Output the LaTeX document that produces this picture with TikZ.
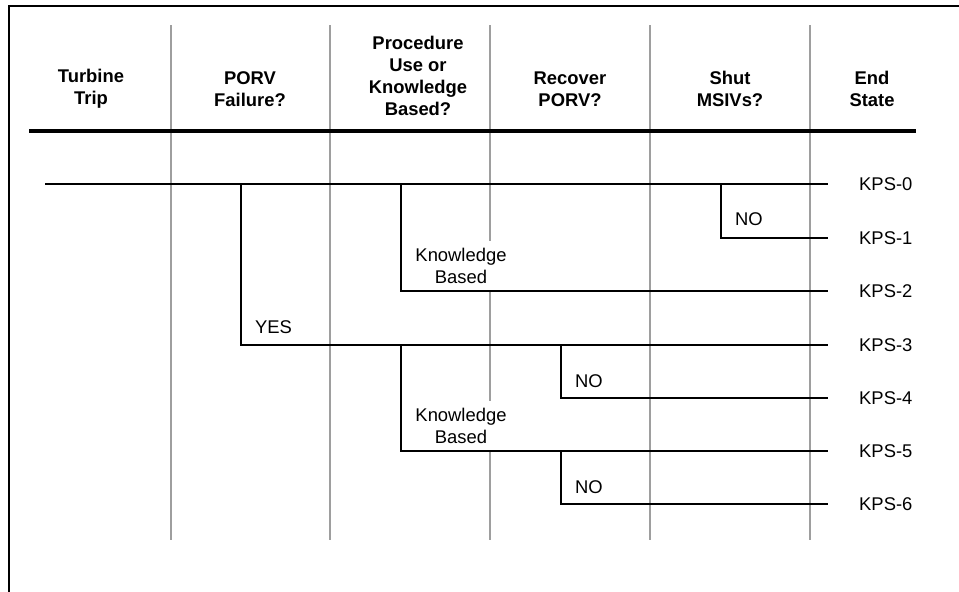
\documentclass[tikz,border=0pt]{standalone}
\usepackage{fontspec}
\setmainfont{Liberation Sans}
\usepackage{tikz}
\usetikzlibrary{positioning}

\begin{document}
\begin{tikzpicture}[
  x=1pt, y=-1pt,
  font=\fontsize{18.4}{22}\selectfont,
  every node/.style={align=center, inner sep=0pt},
  frame/.style ={line width=2pt, line cap=rect},
  colsep/.style={draw=black!38, line width=1.6pt},
  hline/.style ={line width=3.4pt},
  branch/.style={line width=1.8pt},
  hdr/.style   ={font=\fontsize{18.4}{22}\selectfont\bfseries},
  lbl/.style   ={anchor=base west},
  kb/.style    ={anchor=south, fill=white, inner xsep=2pt, inner ysep=7pt},
  endst/.style ={anchor=west, inner xsep=31pt}
]
\useasboundingbox (0,0) rectangle (959,592);

% --- Outer frame (only left and top edges fall inside the page) ---
\draw[frame] (9,592) -- (9,6) -- (959,6);

% --- Column separators ---
\foreach \x in {171,330,490,650,810}
  \draw[colsep] (\x,25) -- (\x,540);

% --- Column headings ---
\node[hdr] (turb)  at (91,89)  {Turbine\\Trip};
\node[hdr] (porv)  at (250,89) {PORV\\Failure?};
\node[hdr] (proc)  at (418,76) {Procedure\\Use or\\Knowledge\\Based?};
\node[hdr] (recov) at (570,89) {Recover\\PORV?};
\node[hdr] (shut)  at (730,89) {Shut\\MSIVs?};
\node[hdr] (endh)  at (872,89) {End\\State};

\draw[hline] (29,131) -- (916,131);

% --- Branch labels (white fill hides the separator behind them) ---
\node[kb]  (kbA) at (461,291) {Knowledge\\Based};
\node[kb]  (kbB) at (461,451) {Knowledge\\Based};
\node[lbl] (noA) at (735,225) {NO};
\node[lbl] (yes) at (255,333) {YES};
\node[lbl] (noB) at (575,387) {NO};
\node[lbl] (noC) at (575,493) {NO};

% --- End states ---
\node[endst] (kps0) at (828,184) {KPS-0};
\node[endst] (kps1) at (828,238) {KPS-1};
\node[endst] (kps2) at (828,291) {KPS-2};
\node[endst] (kps3) at (828,345) {KPS-3};
\node[endst] (kps4) at (828,398) {KPS-4};
\node[endst] (kps5) at (828,451) {KPS-5};
\node[endst] (kps6) at (828,504) {KPS-6};

% --- Branch points ---
\coordinate (init) at (45,184);
\coordinate (pf)   at (241,184);
\coordinate (kb1)  at (401,184);
\coordinate (ms)   at (721,184);
\coordinate (kb2)  at (401,345);
\coordinate (rp1)  at (561,345);
\coordinate (rp2)  at (561,451);

% --- Event tree ---
\draw[branch] (init) -- (kps0.west);
\draw[branch] (ms)   |- (kps1.west);
\draw[branch] (kb1)  |- (kps2.west);
\draw[branch] (pf)   |- (kps3.west);
\draw[branch] (rp1)  |- (kps4.west);
\draw[branch] (kb2)  |- (kps5.west);
\draw[branch] (rp2)  |- (kps6.west);

\end{tikzpicture}
\end{document}
